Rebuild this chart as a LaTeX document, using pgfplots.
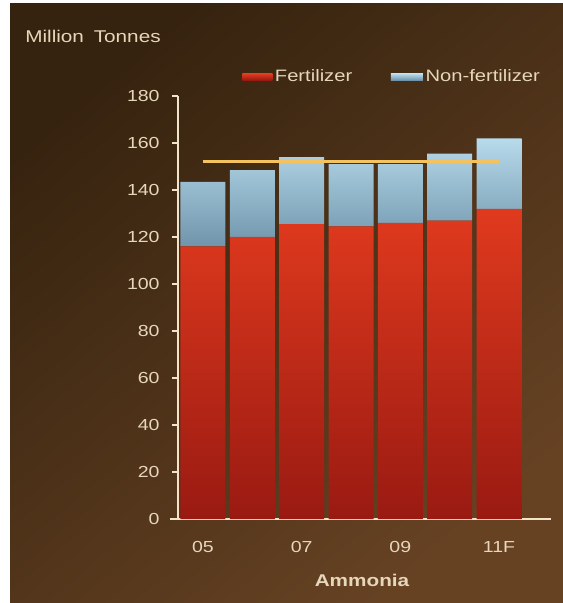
\documentclass[border=0pt]{standalone}
\usepackage{pgfplots}
\usepackage{pgfplotstable}
\pgfplotsset{compat=1.18}
\usepackage{fontspec}
\setmainfont{Liberation Sans}[FakeStretch=1.22]

\definecolor{bgdark}{HTML}{36230F}
\definecolor{bglight}{HTML}{664223}
\definecolor{cream}{HTML}{E6D6BA}
\definecolor{axiscream}{HTML}{F2E4C8}
\definecolor{fertTop}{HTML}{E03A1E}
\definecolor{fertBot}{HTML}{991A12}
\definecolor{nonTop}{HTML}{B7DBEB}
\definecolor{nonBot}{HTML}{7094AB}
\definecolor{avgline}{HTML}{F4C25E}

% pixel grid (0.75pt), origin at the top left corner, y downwards
\tikzset{pixels/.style={x=0.75pt, y=-0.75pt, shift={(0pt,452.25pt)}}}

% Ammonia demand, million tonnes: fertilizer and non-fertilizer use
\pgfplotstableread{
idx fert nonfert
0 116.0 27.5
1 120.0 28.5
2 125.5 28.5
3 124.5 26.5
4 126.0 25.0
5 127.0 28.5
6 132.0 30.0
}\ammonia

\pgfplotsset{
  frame/.style={
    at={(133.725pt,63pt)}, anchor=south west,
    scale only axis, width=279.4pt, height=317.25pt,
    xmin=-0.5, xmax=7.05, ymin=0, ymax=180,
  }
}

\begin{document}
\begin{tikzpicture}
\begin{scope}[pixels]
\useasboundingbox (0,0) rectangle (563,603);
\fill[white] (0,0) rectangle (563,603);
\shade[top color=bgdark, bottom color=bglight, shading angle=40]
  (10,4) rectangle (563,603);
\end{scope}

\begin{axis}[frame,
  ybar stacked, bar width=33.75pt,
  axis x line*=bottom, axis y line*=left,
  x axis line style={draw=axiscream, line width=2.2pt, shorten <=-6pt},
  y axis line style={draw=axiscream, line width=1.5pt},
  ytick={0,20,...,180},
  xtick={0,2,4,6}, xticklabels={05,07,09,11F},
  tick align=outside, major tick length=4.5pt,
  y tick style={draw=axiscream, line width=1.3pt},
  x tick style={draw=none},
  /pgf/number format/assume math mode=true,
  tick label style={font=\fontsize{12}{14}\selectfont, text=cream},
  xticklabel style={yshift=-9pt},
  yticklabel style={xshift=-6pt},
  legend style={draw=none, fill=none, at={(0.171,1.045)}, anchor=west,
    legend columns=2, font=\fontsize{12.4}{14}\selectfont, text=cream,
    inner sep=0pt,
    /tikz/every even column/.append style={column sep=27pt}},
  legend cell align=left,
]
\addplot[draw=none, top color=fertTop, bottom color=fertBot,
  legend image code/.code={\fill[fertTop!92!black] (0pt,-2.3pt) rectangle (22.5pt,2.3pt);}]
  table[x=idx, y=fert] {\ammonia};
\addlegendentry{Fertilizer}
\addplot[draw=none, top color=nonTop, bottom color=nonBot,
  legend image code/.code={\fill[nonTop!90!black] (0pt,-2.3pt) rectangle (24pt,2.3pt);}]
  table[x=idx, y=nonfert] {\ammonia};
\addlegendentry{Non-fertilizer}
\end{axis}

% capacity level drawn over the bars
\begin{axis}[frame, hide axis]
\addplot[avgline, line width=2.2pt, mark=none] coordinates {(0,152) (6,152)};
\end{axis}

\begin{scope}[pixels]
\node[anchor=west, text=cream, font=\fontsize{12.75}{15}\selectfont, inner sep=0pt]
  at (25,36) {Million\hspace{3pt} Tonnes};
\node[text=cream, font=\bfseries\fontsize{12.75}{15}\selectfont, inner sep=0pt]
  at (362,580) {Ammonia};
\end{scope}
\end{tikzpicture}
\end{document}
